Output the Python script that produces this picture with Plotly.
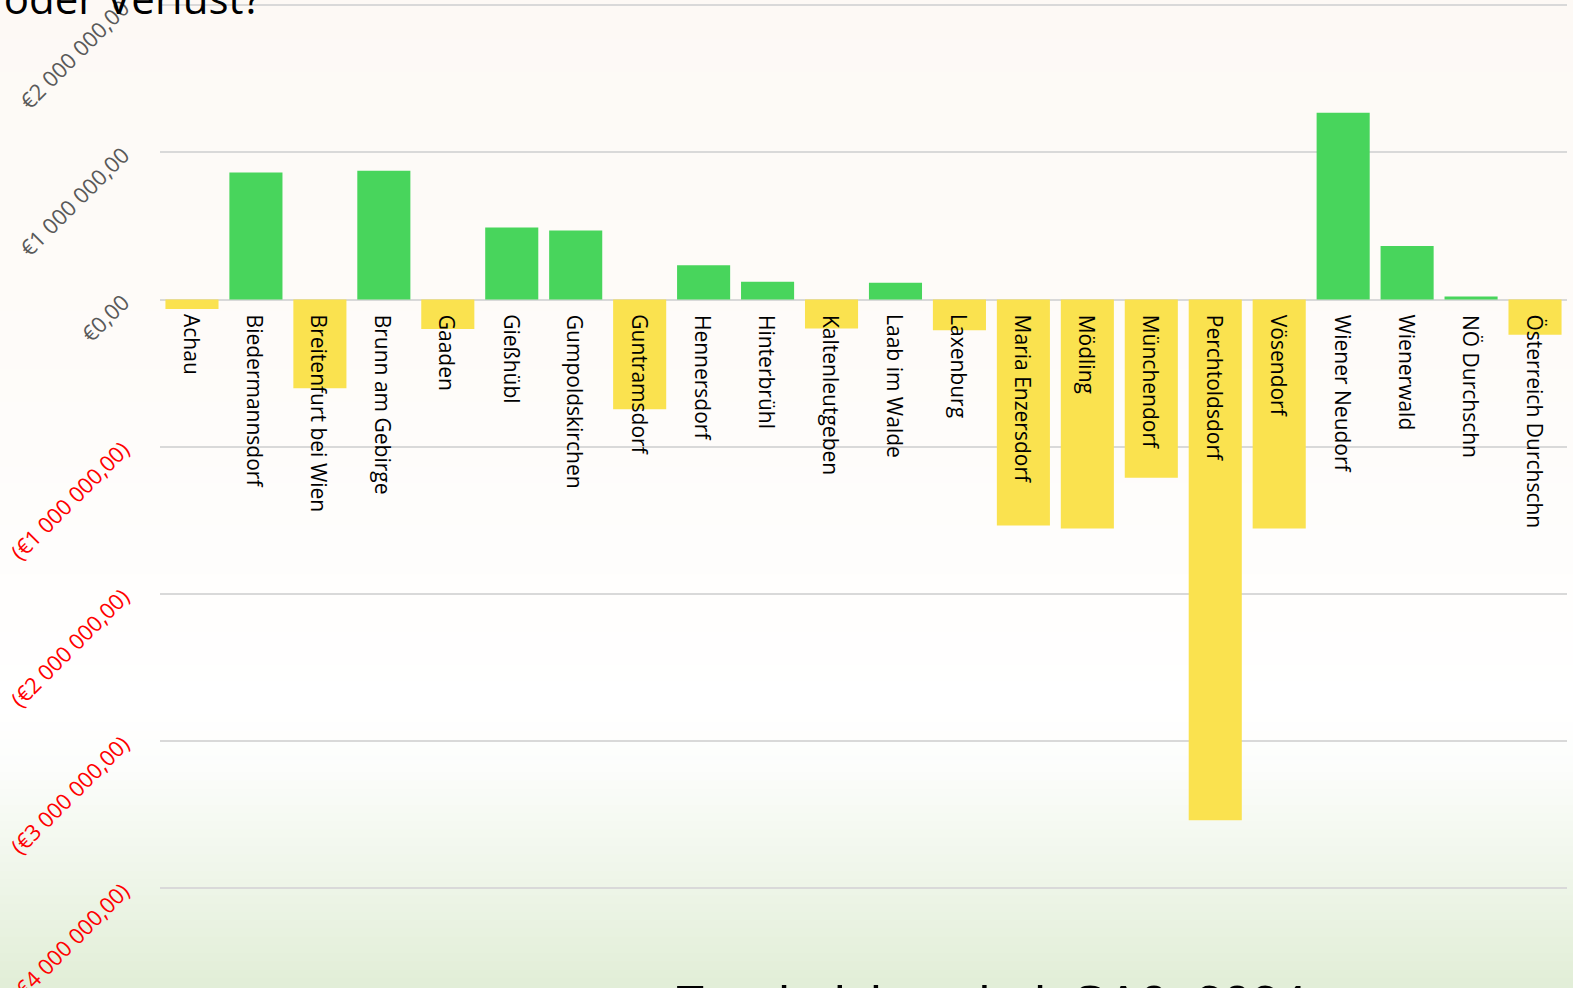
import plotly.graph_objects as go

# ---- data ----
gemeinden = ["Achau", "Biedermannsdorf", "Breitenfurt bei Wien", "Brunn am Gebirge", "Gaaden",
             "Gießhübl", "Gumpoldskirchen", "Guntramsdorf", "Hennersdorf", "Hinterbrühl",
             "Kaltenleutgeben", "Laab im Walde", "Laxenburg", "Maria Enzersdorf", "Mödling",
             "Münchendorf", "Perchtoldsdorf", "Vösendorf", "Wiener Neudorf", "Wienerwald",
             "NÖ Durchschn", "Österreich Durchschn"]
ergebnis = [-65000, 862000, -602000, 874000, -200000,
            489000, 468000, -745000, 232000, 120000,
            -197000, 114000, -208000, -1535000, -1555000,
            -1210000, -3537000, -1555000, 1268000, 363000,
            20000, -240000]
tick_vals = [-4000000, -3000000, -2000000, -1000000, 0, 1000000, 2000000]
tick_text_pos = {0: "€0,00", 1000000: "€1 000 000,00", 2000000: "€2 000 000,00"}
tick_text_neg = {-1000000: "(€1 000 000,00)", -2000000: "(€2 000 000,00)",
                 -3000000: "(€3 000 000,00)", -4000000: "(€4 000 000,00)"}
titel_oben = "Gewinn oder Verlust?"
titel_unten = "Ergebnishaushalt SA0, 2024"

GREEN = "#48D55C"
YELLOW = "#FAE24F"
colors = [GREEN if v >= 0 else YELLOW for v in ergebnis]

ticktext = []
for v in tick_vals:
    if v < 0:
        ticktext.append('<span style="color:#FF0000">' + tick_text_neg[v] + '</span>')
    else:
        ticktext.append(tick_text_pos[v])

fig = go.Figure()
fig.add_trace(go.Bar(x=gemeinden, y=ergebnis, marker=dict(color=colors, line=dict(width=0)),
                     hoverinfo="x+y"))

# category labels just below zero line
for g in gemeinden:
    fig.add_annotation(x=g, y=0, xref="x", yref="y", text=g, showarrow=False,
                       textangle=90, xanchor="center", yanchor="top", yshift=-13,
                       font=dict(family="Open Sans", size=21, color="#000000"))

# background gradient (decoration)
stops = [(0.0, (253, 249, 245)), (0.45, (254, 252, 250)), (0.72, (255, 255, 255)),
         (0.78, (252, 253, 251)), (1.0, (225, 238, 215))]
N = 120
for i in range(N):
    t = (i + 0.5) / N  # from top
    for j in range(len(stops) - 1):
        if stops[j][0] <= t <= stops[j + 1][0]:
            a, ca = stops[j]
            b, cb = stops[j + 1]
            f = (t - a) / (b - a)
            c = tuple(round(ca[k] + (cb[k] - ca[k]) * f) for k in range(3))
            break
    fig.add_shape(type="rect", xref="paper", yref="paper", x0=-0.2, x1=1.1,
                  y0=1 - (i + 1) / N - 0.002, y1=1 - i / N + 0.002,
                  fillcolor="rgb(%d,%d,%d)" % c, line=dict(width=0), layer="below")

W, H = 1573, 988
ml, mr = 160, 6
pw = W - ml - mr

fig.add_annotation(text=titel_oben, xref="paper", yref="paper",
                   x=(264 - ml) / pw, y=1 - 28 / H, xanchor="right", yanchor="bottom",
                   showarrow=False, font=dict(family="Open Sans", size=42, color="#000000"))
fig.add_annotation(text=titel_unten, xref="paper", yref="paper",
                   x=(990 - ml) / pw, y=1 - 974 / H, xanchor="center", yanchor="top",
                   showarrow=False, font=dict(family="Liberation Sans", size=50, color="#000000"))

fig.update_layout(
    width=W, height=H,
    margin=dict(l=ml, r=mr, t=0, b=0, autoexpand=False),
    paper_bgcolor="rgb(253,249,245)",
    plot_bgcolor="rgba(0,0,0,0)",
    bargap=0.17,
    showlegend=False,
    font=dict(family="Open Sans"),
    xaxis=dict(showticklabels=False, showgrid=False, zeroline=False, showline=False,
               ticks="", automargin=False),
    yaxis=dict(range=[-4677000, 2034600], tickvals=tick_vals, ticktext=ticktext,
               tickangle=-45, tickfont=dict(family="Open Sans", size=22, color="#595959"),
               showgrid=True, gridcolor="#D9D9D9", gridwidth=2,
               zeroline=True, zerolinecolor="#D9D9D9", zerolinewidth=2,
               showline=False, ticks="", ticklabelstandoff=36, ticklabeloverflow="allow",
               automargin=False),
)

fig.write_html("out.html", config={"displayModeBar": False},
               post_script="document.body.style.margin='0px';document.body.style.padding='0px';")
